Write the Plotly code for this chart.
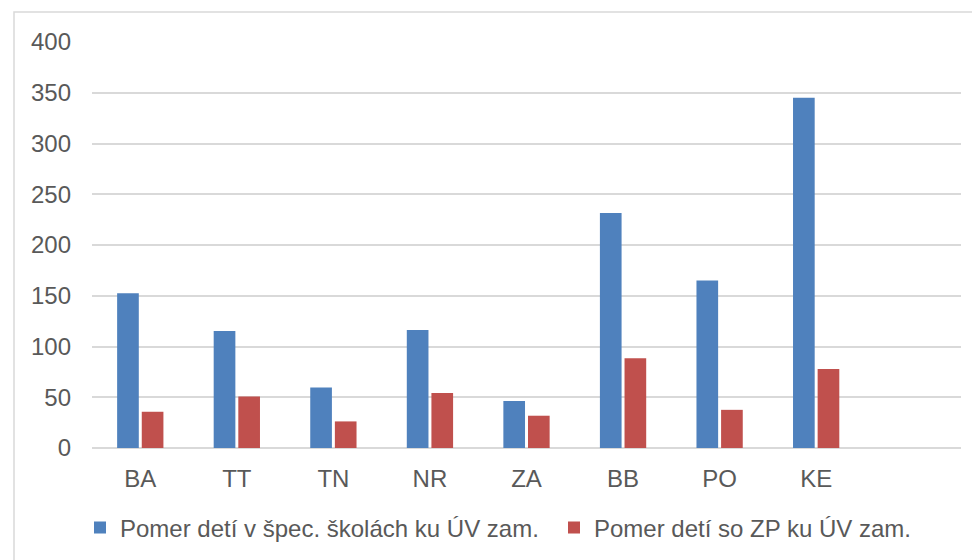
import plotly.graph_objects as go

# Regions and ratio values
regions = ["BA", "TT", "TN", "NR", "ZA", "BB", "PO", "KE"]
spec_schools = [152.5, 115.2, 59.6, 116.2, 46.2, 231.5, 165.0, 345.1]
zp_children = [35.7, 50.8, 26.2, 54.3, 31.8, 88.4, 37.6, 77.9]

series_names = [
    "Pomer detí v špec. školách ku ÚV zam.",
    "Pomer detí so ZP ku ÚV zam.",
]
y_ticks = [0, 50, 100, 150, 200, 250, 300, 350, 400]

FONT = "Liberation Sans, Arial, sans-serif"
TEXT = "#595959"
GRID = "#d9d9d9"

fig = go.Figure()
fig.add_trace(go.Bar(x=regions, y=spec_schools, name=series_names[0],
                     marker=dict(color="#4F81BD", line=dict(width=0)),
                     legend="legend"))
fig.add_trace(go.Bar(x=regions, y=zp_children, name=series_names[1],
                     marker=dict(color="#C0504D", line=dict(width=0)),
                     legend="legend2"))

L, R, T, B = 92, 11, 42, 111
W, H = 972, 560
pw, ph = W - L - R, H - T - B
legend_y = -(528 - (T + ph)) / ph


def legend_at(px):
    return dict(orientation="h", x=(px - L) / pw, xanchor="left",
                y=legend_y, yanchor="middle",
                font=dict(family=FONT, size=24, color=TEXT),
                bgcolor="rgba(0,0,0,0)", itemsizing="constant")


fig.update_layout(
    width=W, height=H,
    margin=dict(l=L, r=R, t=T, b=B, pad=0),
    paper_bgcolor="white", plot_bgcolor="white",
    barmode="group", bargap=0.49, bargroupgap=0.12,
    font=dict(family=FONT, size=24, color=TEXT),
    showlegend=True,
    legend=legend_at(80),
    legend2=legend_at(554),
    xaxis=dict(type="category", range=[-0.5, 8.5], showgrid=False,
               showline=False, zeroline=False, ticks="",
               ticklabelstandoff=14,
               tickfont=dict(family=FONT, size=24, color=TEXT)),
    yaxis=dict(range=[0, 400], tickvals=y_ticks, showgrid=True,
               gridcolor=GRID, gridwidth=1.5, zeroline=True,
               zerolinecolor=GRID, zerolinewidth=1.5, showline=False,
               ticks="", ticklabelstandoff=20,
               tickfont=dict(family=FONT, size=24, color=TEXT)),
    shapes=[dict(type="rect", xref="paper", yref="paper",
                 x0=(14 - L) / pw, x1=1.1,
                 y0=-0.5, y1=(T + ph - 12) / ph,
                 line=dict(color="#d9d9d9", width=1.5),
                 fillcolor="rgba(0,0,0,0)", layer="below")],
)

fig.write_html("out.html")
